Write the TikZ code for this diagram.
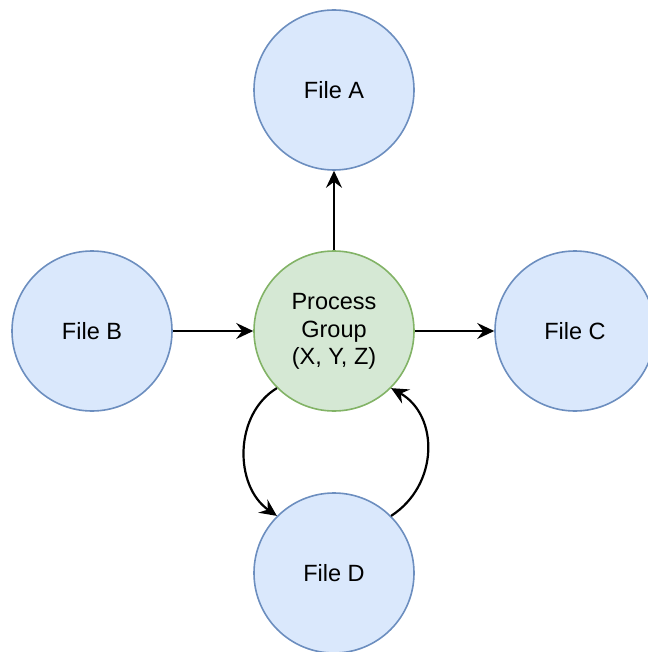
\documentclass[tikz,border=0pt]{standalone}
\usepackage{fontspec}
\setmainfont{Liberation Sans}
\usetikzlibrary{arrows.meta}
\definecolor{fileFill}{HTML}{DAE8FC}
\definecolor{fileLine}{HTML}{6C8EBF}
\definecolor{procFill}{HTML}{D5E8D4}
\definecolor{procLine}{HTML}{82B366}
\tikzset{
  filenode/.style={circle, draw=fileLine, fill=fileFill, line width=1.6pt,
    minimum size=160pt, inner sep=0pt, font=\fontsize{23.5}{28}\selectfont},
  procnode/.style={filenode, draw=procLine, fill=procFill, align=center},
  flow/.style={line width=2.2pt, -{Stealth[length=17pt, width=16pt, inset=6pt]}}
}
\begin{document}
\begin{tikzpicture}[x=1pt, y=-1pt]
  \useasboundingbox (0,0) rectangle (647,652);
  \node[filenode] (a) at (334,90) {File A};
  \node[filenode] (b) at (92,331) {File B};
  \node[procnode] (p) at (334,331) {Process\\Group\\[-1pt](X, Y, Z)};
  \node[filenode] (c) at (575,331) {File C};
  \node[filenode] (d) at (334,573) {File D};

  \draw[flow] (p) -- (a);
  \draw[flow] (b) -- (p);
  \draw[flow] (p) -- (c);
  \draw[flow] (p.225) .. controls +(-43,26) and +(-43,-30) .. (d.135);
  \draw[flow] (d.45) .. controls +(48,-31) and +(48,27) .. (p.-45);
\end{tikzpicture}
\end{document}
